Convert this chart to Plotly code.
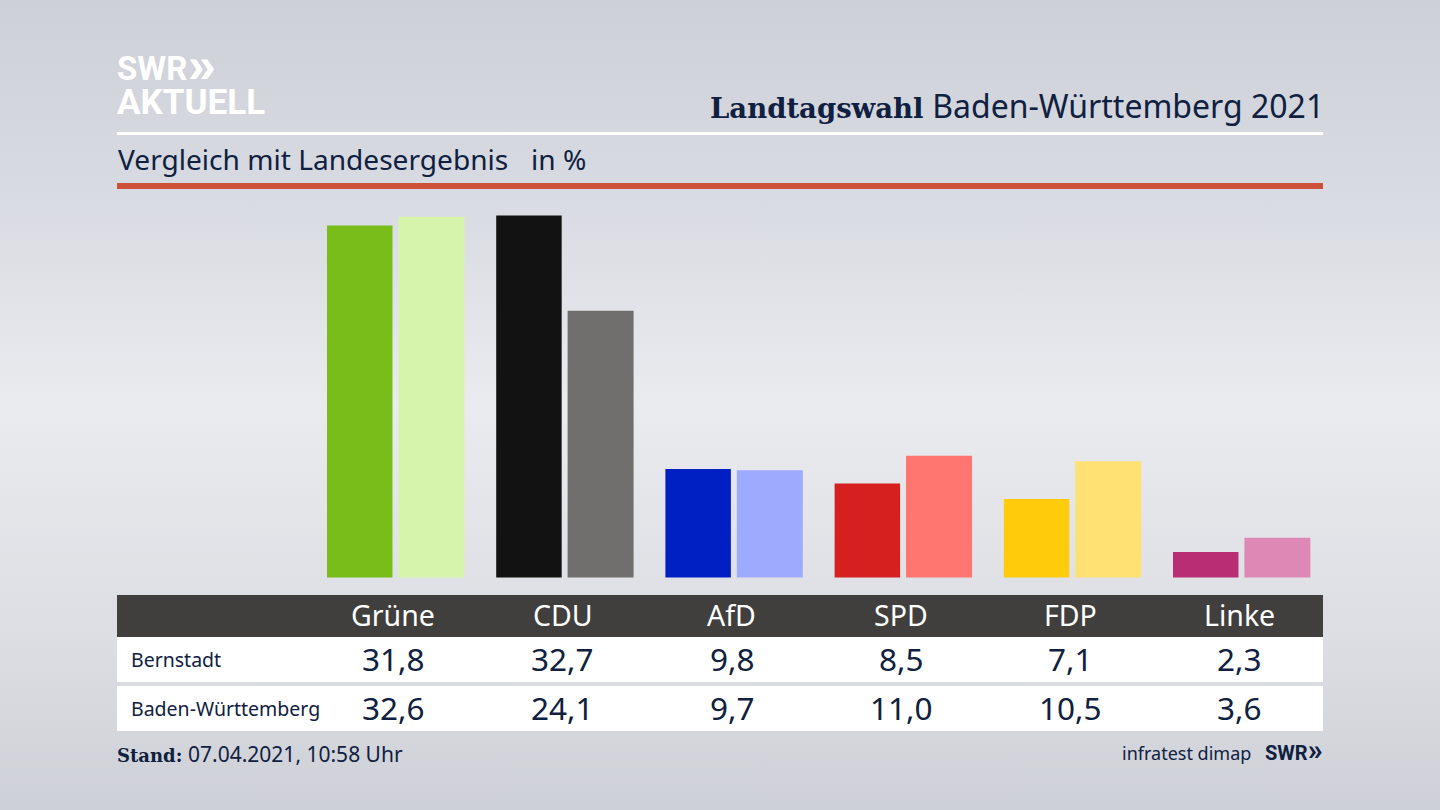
import plotly.graph_objects as go

parties = ["Grüne", "CDU", "AfD", "SPD", "FDP", "Linke"]
bernstadt = [31.8, 32.7, 9.8, 8.5, 7.1, 2.3]
land = [32.6, 24.1, 9.7, 11.0, 10.5, 3.6]
bernstadt_colors = ["#78bd1a", "#121212", "#0020c4", "#d61f1f", "#ffcb0a", "#b82d74"]
land_colors = ["#d6f5aa", "#706f6d", "#9dabff", "#ff7570", "#ffe173", "#de88b6"]
row_names = ["Bernstadt", "Baden-Württemberg"]

W, H = 1440, 810
INK = "#0f2040"
SANS = "Noto Sans"
SLAB = "DejaVu Serif"


def px(x):
    return x / W


def py(y):
    return 1 - y / H


def fmt(v):
    return f"{v:.1f}".replace(".", ",")


def rect(x0, y0, x1, y1, color):
    return dict(type="rect", xref="paper", yref="paper", x0=px(x0), x1=px(x1),
                y0=py(y0), y1=py(y1), fillcolor=color, line_width=0, layer="below")


def label(x, y, text, size, color=INK, anchor="left", family=SANS, xref="paper"):
    xshift = 0
    if xref == "paper":
        x = px(x - 2) if anchor == "left" else px(x + 2) if anchor == "right" else px(x)
    else:
        xshift = 1
    return dict(xref=xref, yref="paper", x=x, y=py(y), xshift=xshift,
                text=text, showarrow=False, xanchor=anchor, yanchor="middle",
                font=dict(family=family, size=size, color=color))


fig = go.Figure()
fig.add_bar(x=parties, y=bernstadt, name=row_names[0], marker=dict(color=bernstadt_colors, line_width=0),
            offset=-0.387, width=0.387)
fig.add_bar(x=parties, y=land, name=row_names[1], marker=dict(color=land_colors, line_width=0),
            offset=0.035, width=0.39)

shapes = [
    rect(117, 132, 1323, 135, "#ffffff"),
    rect(117, 183, 1323, 189, "#cc5038"),
    rect(117, 595, 1323, 637, "#403f3d"),
    rect(117, 637, 1323, 682, "#ffffff"),
    rect(117, 686, 1323, 731, "#ffffff"),
]

ann = [
    label(117, 69, "<b>SWR</b>", 33, "#ffffff", family="Roboto"),
    label(188, 65, "<b>»</b>", 50, "#ffffff", family="Liberation Sans"),
    label(117, 103, "<b>AKTUELL</b>", 35, "#ffffff", family="Roboto"),
    label(1324, 105, "<b>Landtagswahl</b> <span style='font-family:Noto Sans;font-size:32px'>Baden-Württemberg 2021</span>",
          27.5, anchor="right", family=SLAB),
    label(118, 159, "Vergleich mit Landesergebnis", 28.1),
    label(531, 159, "in %", 28.1),
    label(131, 659, row_names[0], 19.5),
    label(131, 708, row_names[1], 19.5),
    label(117, 754, "<b>Stand:</b> <span style='font-family:Noto Sans;font-size:21px'>07.04.2021, 10:58 Uhr</span>",
          18, family=SLAB),
    label(1251, 753, "infratest dimap", 18, anchor="right"),
    label(1323, 749, "<b>SWR<span style='font-size:30px'>»</span></b>", 20, anchor="right", family="Roboto"),
]
for p, a, b in zip(parties, bernstadt, land):
    ann.append(label(p, 615, p, 28.5, "#ffffff", "center", xref="x"))
    ann.append(label(p, 658.5, fmt(a), 31.5, INK, "center", xref="x"))
    ann.append(label(p, 707.5, fmt(b), 31.5, INK, "center", xref="x"))

fig.update_layout(
    width=W, height=H, margin=dict(l=0, r=0, t=0, b=0),
    paper_bgcolor="rgba(0,0,0,0)", plot_bgcolor="rgba(0,0,0,0)",
    showlegend=False, shapes=shapes, annotations=ann,
    xaxis=dict(type="category", categoryorder="array", categoryarray=parties,
               range=[-2.3197, 6.191], visible=False, fixedrange=True),
    yaxis=dict(range=[-21.0, 52.17], visible=False, fixedrange=True),
)

bg = ("document.documentElement.style.background='linear-gradient(180deg,#cdd0d7 0%,#d8dbe1 25%,"
      "#e9ebef 50%,#dcdee3 78%,#cdd0d6 100%)';"
      "document.body.style.margin='0';document.body.style.background='transparent';"
      "document.documentElement.style.overflow='hidden';")
fig.write_html("out.html", post_script=bg, config=dict(displayModeBar=False))
